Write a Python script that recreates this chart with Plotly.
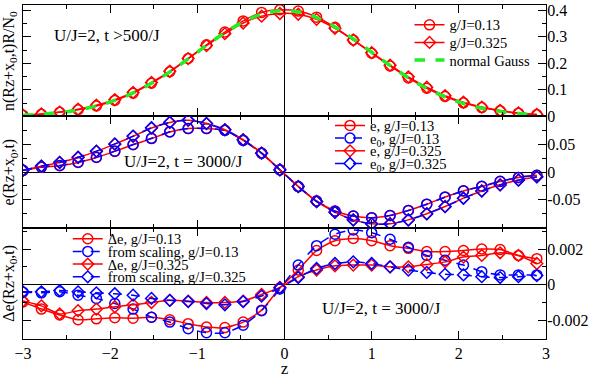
import plotly.graph_objects as go
from plotly.subplots import make_subplots

RED = "#ff0000"
BLUE = "#0000ff"
GREEN = "#22ee22"
FONT = "Liberation Serif, Times New Roman, serif"

# lattice positions (z)
z = [-3.0, -2.789, -2.579, -2.368, -2.158, -1.947, -1.737, -1.526, -1.316, -1.105,
     -0.895, -0.684, -0.474, -0.263, -0.053, 0.158, 0.368, 0.579, 0.789, 1.0,
     1.211, 1.421, 1.632, 1.842, 2.053, 2.263, 2.474, 2.684, 2.895]

# panel 1: density
n_013 = [0.004, 0.008, 0.015, 0.025, 0.039, 0.060, 0.087, 0.125, 0.168, 0.218,
         0.270, 0.318, 0.360, 0.392, 0.402, 0.397, 0.374, 0.336, 0.288, 0.238,
         0.190, 0.145, 0.106, 0.075, 0.051, 0.033, 0.021, 0.012, 0.007]
n_0325 = [0.004, 0.009, 0.016, 0.027, 0.042, 0.063, 0.090, 0.128, 0.170, 0.218,
          0.267, 0.312, 0.352, 0.378, 0.388, 0.385, 0.366, 0.332, 0.288, 0.240,
          0.193, 0.149, 0.110, 0.078, 0.053, 0.035, 0.022, 0.013, 0.007]
n_gauss = [0.0044, 0.0082, 0.0144, 0.0242, 0.0389, 0.0600, 0.0882, 0.1246, 0.1678, 0.2166,
           0.2673, 0.3157, 0.3566, 0.3854, 0.3984, 0.3940, 0.3728, 0.3374, 0.2922, 0.2420,
           0.1916, 0.1454, 0.1054, 0.0731, 0.0485, 0.0308, 0.0187, 0.0109, 0.0060]

# panel 2: e and e0
e_013 = [0.003, 0.0086, 0.0114, 0.017, 0.026, 0.037, 0.049, 0.060, 0.072, 0.078,
         0.078, 0.075, 0.057, 0.034, 0.004, -0.026, -0.052, -0.070, -0.079, -0.082,
         -0.078, -0.069, -0.058, -0.045, -0.034, -0.026, -0.017, -0.010, -0.006]
e0_013 = [0.003, 0.0088, 0.0118, 0.0175, 0.0265, 0.0375, 0.0495, 0.0605, 0.0722, 0.0782,
          0.0782, 0.0748, 0.0568, 0.0338, 0.0038, -0.0262, -0.0522, -0.0703, -0.0792, -0.0822,
          -0.0782, -0.0692, -0.0578, -0.0452, -0.0338, -0.0258, -0.0168, -0.0098, -0.0058]
e_0325 = [0.003, 0.0103, 0.017, 0.026, 0.037, 0.050, 0.064, 0.079, 0.089, 0.093,
          0.087, 0.076, 0.058, 0.034, 0.004, -0.026, -0.053, -0.072, -0.086, -0.093,
          -0.093, -0.086, -0.075, -0.062, -0.047, -0.034, -0.023, -0.0145, -0.0086]
e0_0325 = [0.003, 0.0106, 0.0174, 0.0265, 0.0375, 0.0505, 0.0645, 0.0795, 0.0893, 0.0932,
           0.0872, 0.0758, 0.0578, 0.0338, 0.0038, -0.0262, -0.0532, -0.0723, -0.0862, -0.0932,
           -0.0932, -0.0862, -0.0752, -0.0622, -0.0472, -0.0342, -0.0232, -0.0147, -0.0088]

# panel 3: delta e and scaling prediction
de_013 = [-0.00097, -0.00137, -0.0017, -0.00197, -0.00192, -0.00186, -0.00188, -0.00183, -0.00197, -0.00219,
          -0.00238, -0.00241, -0.0021, -0.00143, -0.00018, 0.00082, 0.00192, 0.00247, 0.00259, 0.00247,
          0.00219, 0.00204, 0.00186, 0.00186, 0.00192, 0.002, 0.00197, 0.00164, 0.00146]
ds_013 = [-0.00042, -0.00046, -0.0004, -0.00059, -0.00077, -0.00106, -0.00137, -0.00183, -0.0021, -0.00247,
          -0.0027, -0.0027, -0.00228, -0.00146, -0.00024, 0.0011, 0.00219, 0.00283, 0.00307, 0.00292,
          0.00255, 0.0021, 0.00164, 0.00137, 0.0011, 0.00073, 0.00055, 0.00055, 0.00055]
de_0325 = [-0.00092, -0.00119, -0.00164, -0.00146, -0.00137, -0.00124, -0.00113, -0.001, -0.00088, -0.00092,
           -0.001, -0.001, -0.00092, -0.00055, -0.00015, 0.00045, 0.00082, 0.00106, 0.0011, 0.0011,
           0.001, 0.001, 0.00113, 0.00128, 0.00155, 0.00164, 0.00179, 0.00164, 0.00119]
ds_0325 = [-0.0004, -0.0004, -0.00033, -0.0004, -0.00046, -0.00051, -0.00059, -0.00077, -0.00088, -0.00095,
           -0.00106, -0.00113, -0.00095, -0.00064, -0.00018, 0.0004, 0.00091, 0.00119, 0.00128, 0.00119,
           0.001, 0.00082, 0.00069, 0.00058, 0.00055, 0.00045, 0.0004, 0.00045, 0.00051]

fig = make_subplots(rows=3, cols=1, shared_xaxes=True, vertical_spacing=0)

# each trace gets its own legend so rows can sit as tight as in the original
legend_pos = {}


def add(y, name, color, symbol, dash, row, lx, ly):
    key = "legend" if not legend_pos else "legend%d" % (len(legend_pos) + 1)
    legend_pos[key] = (lx, ly)
    size = 10 if symbol == "circle-open" else 9
    fig.add_trace(go.Scatter(
        x=z, y=y, name=name, mode="lines+markers", legend=key,
        line=dict(color=color, width=1.5, dash=dash, shape="spline", smoothing=0.6),
        marker=dict(symbol=symbol, size=size, color=color, line=dict(color=color, width=1.5)),
    ), row=row, col=1)


def py(pix):
    # centre of a legend row (pixel row, plot area 2..344) -> paper y of the legend top
    return 1 - (pix - 15 - 2) / 342


L1, L2, L3 = 0.739, 0.587, 0.0856
add(n_013, "g/J=0.13", RED, "circle-open", "solid", 1, L1, py(21))
add(n_0325, "g/J=0.325", RED, "diamond-open", "solid", 1, L1, py(39))
legend_pos["legend3"] = (L1, py(57))
fig.add_trace(go.Scatter(x=z, y=n_gauss, name="normal Gauss", mode="lines", legend="legend3",
                         line=dict(color=GREEN, width=3.5, dash="dash", shape="spline")), row=1, col=1)

add(e_013, "e, g/J=0.13", RED, "circle-open", "solid", 2, L2, py(124))
add(e0_013, "e<sub>0</sub>, g/J=0.13", BLUE, "circle-open", "dash", 2, L2, py(137))
add(e_0325, "e, g/J=0.325", RED, "diamond-open", "solid", 2, L2, py(150))
add(e0_0325, "e<sub>0</sub>, g/J=0.325", BLUE, "diamond-open", "dash", 2, L2, py(163))

add(de_013, "Δe, g/J=0.13", RED, "circle-open", "solid", 3, L3, py(240))
add(ds_013, "from scaling, g/J=0.13", BLUE, "circle-open", "dash", 3, L3, py(253))
add(de_0325, "Δe, g/J=0.325", RED, "diamond-open", "solid", 3, L3, py(266))
add(ds_0325, "from scaling, g/J=0.325", BLUE, "diamond-open", "dash", 3, L3, py(279))

axis_common = dict(showline=True, linecolor="black", linewidth=1, mirror="ticks",
                   ticks="inside", ticklen=8, tickcolor="black", showgrid=False,
                   ticklabeloverflow="allow",
                   tickfont=dict(family=FONT, size=16, color="black"))

fig.update_xaxes(range=[-3, 3], dtick=1, zeroline=True, zerolinecolor="black", zerolinewidth=1,
                 minor=dict(ticks="inside", ticklen=4, dtick=0.5, tickcolor="black"),
                 **axis_common)
fig.update_xaxes(title=dict(text="z", font=dict(family=FONT, size=17, color="black"), standoff=2),
                 row=3, col=1)

fig.update_yaxes(side="right", ticklabelstandoff=-3, **axis_common)
fig.update_yaxes(range=[0, 0.42], tickvals=[0, 0.1, 0.2, 0.3, 0.4], zeroline=False,
                 minor=dict(ticks="inside", ticklen=4, dtick=0.05, tickcolor="black"), row=1, col=1)
fig.update_yaxes(range=[-0.1, 0.1], tickvals=[-0.05, 0, 0.05], ticktext=["-0.05", "0", "0.05"],
                 zeroline=True, zerolinecolor="black", zerolinewidth=1,
                 minor=dict(ticks="inside", ticklen=4, dtick=0.025, tickcolor="black"), row=2, col=1)
fig.update_yaxes(range=[-0.00305, 0.0032], tickvals=[-0.002, 0, 0.002], ticktext=["-0.002", "0", "0.002"],
                 zeroline=True, zerolinecolor="black", zerolinewidth=1,
                 minor=dict(ticks="inside", ticklen=4, dtick=0.001, tickcolor="black"), row=3, col=1)

leg_style = dict(bgcolor="rgba(0,0,0,0)", font=dict(family=FONT, size=14.5, color="black"),
                 xanchor="left", yanchor="top", tracegroupgap=0, itemwidth=30)
fig.update_layout(
    width=598, height=378,
    margin=dict(l=23, r=52, t=2, b=34),
    paper_bgcolor="white", plot_bgcolor="white",
    font=dict(family=FONT, size=16, color="black"),
    showlegend=True,
    **{k: dict(x=v[0], y=v[1], **leg_style) for k, v in legend_pos.items()},
)

ann_font = dict(family=FONT, size=17, color="black")
fig.add_annotation(text="U/J=2, t >500/J", xref="x domain", yref="y domain", x=0.055, y=0.73,
                   xanchor="left", yanchor="middle", showarrow=False, font=ann_font)
fig.add_annotation(text="U/J=2, t = 3000/J", xref="x2 domain", yref="y2 domain", x=0.19, y=0.59,
                   xanchor="left", yanchor="middle", showarrow=False, font=ann_font)
fig.add_annotation(text="U/J=2, t = 3000/J", xref="x3 domain", yref="y3 domain", x=0.568, y=0.27,
                   xanchor="left", yanchor="middle", showarrow=False, font=ann_font)

title_font = dict(family=FONT, size=16, color="black")
for txt, yc in [("n(Rz+x<sub>0</sub>,t)R/N<sub>0</sub>", 5 / 6),
                ("e(Rz+x<sub>0</sub>,t)", 0.5),
                ("Δe(Rz+x<sub>0</sub>,t)", 1 / 6)]:
    fig.add_annotation(text=txt, xref="paper", yref="paper", x=-0.026, y=yc, textangle=-90,
                       xanchor="center", yanchor="middle", showarrow=False, font=title_font)

fig.write_html("out.html", config={"displayModeBar": False},
               post_script="document.body.style.margin='0';")
